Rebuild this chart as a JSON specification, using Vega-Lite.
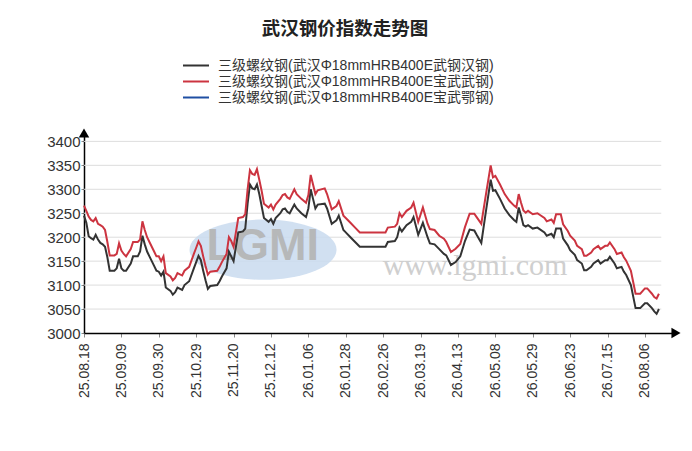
{
  "$schema": "https://vega.github.io/schema/vega-lite/v6.json",
  "width": 592,
  "height": 200,
  "autosize": {"type": "none"},
  "padding": {"left": 84, "top": 133, "right": 16, "bottom": 118},
  "title": {
    "text": "武汉钢价指数走势图",
    "font": "Noto Sans CJK SC",
    "fontSize": 18.5,
    "fontWeight": "bold",
    "color": "#222222",
    "anchor": "middle",
    "frame": "group",
    "dx": -35,
    "offset": 20
  },
  "config": {
    "view": {"stroke": null},
    "axis": {
      "domainColor": "#000000",
      "domainWidth": 1.5,
      "tickColor": "#888888",
      "labelColor": "#333333",
      "labelFont": "Liberation Sans",
      "grid": false,
      "labelOverlap": false,
      "labelBound": false
    },
    "axisX": {"labelFlush": false},
    "axisY": {"format": "d"},
    "legend": {
      "orient": "none",
      "legendX": 104.5,
      "legendY": -75,
      "padding": 0,
      "title": null,
      "symbolType": "M-2,0H2",
      "symbolSize": 169,
      "symbolStrokeWidth": 2,
      "labelFont": "Liberation Sans, Noto Sans CJK SC",
      "labelFontSize": 14,
      "labelColor": "#333333",
      "labelOffset": 14.5,
      "labelLimit": 400,
      "rowPadding": 1
    }
  },
  "layer": [
    {
      "data": {"values": [{"g": 3050}, {"g": 3100}, {"g": 3150}, {"g": 3200}, {"g": 3250}, {"g": 3300}, {"g": 3350}, {"g": 3400}]},
      "mark": {"type": "rule", "color": "#dddddd", "strokeWidth": 1},
      "encoding": {
        "y": {"field": "g", "type": "quantitative", "title": null, "scale": {"domain": [3000, 3417.5], "nice": false, "zero": false},
          "axis": {
            "values": [3000, 3050, 3100, 3150, 3200, 3250, 3300, 3350, 3400],
            "tickCount": 20,
            "format": "d",
            "labelFontSize": 15,
            "labelPadding": 1,
            "tickSize": 3
          }},
        "x": {"datum": 0, "type": "quantitative", "title": null, "scale": {"domain": [0, 253.3], "nice": false, "zero": false},
          "axis": {
            "values": [0, 16, 32, 48, 64, 80, 96, 112, 128, 144, 160, 176, 192, 208, 224, 240],
            "tickCount": 40,
            "labelExpr": "['25.08.18','25.09.09','25.09.30','25.10.29','25.11.20','25.12.12','26.01.06','26.01.28','26.02.26','26.03.19','26.04.13','26.05.08','26.05.29','26.06.23','26.07.15','26.08.06'][round(datum.value / 16)]",
            "labelAngle": 270,
            "labelAlign": "right",
            "labelBaseline": "middle",
            "labelFontSize": 14,
            "labelPadding": 6,
            "tickSize": 4
          }},
        "x2": {"datum": 247}
      }
    },
    {
      "data": {"values": [{}]},
      "mark": {"type": "point", "filled": true, "shape": "M-1,0A1,0.41,0,1,1,1,0A1,0.41,0,1,1,-1,0Z", "size": 21600, "color": "#c9dbee", "opacity": 0.85},
      "encoding": {
        "x": {"datum": 76.6, "type": "quantitative", "title": null},
        "y": {"datum": 3174, "type": "quantitative", "title": null}
      }
    },
    {
      "data": {"values": [{}]},
      "mark": {"type": "text", "text": "LGMI", "font": "Liberation Sans", "fontSize": 45, "fontWeight": "bold", "color": "#b4b4b4", "opacity": 0.9, "baseline": "middle", "align": "center"},
      "encoding": {
        "x": {"datum": 76.5, "type": "quantitative", "title": null},
        "y": {"datum": 3182, "type": "quantitative", "title": null}
      }
    },
    {
      "data": {"values": [{}]},
      "mark": {"type": "text", "text": "www.lgmi.com", "font": "Liberation Serif", "fontSize": 30, "color": "#cfcfcf", "baseline": "middle", "align": "center"},
      "encoding": {
        "x": {"datum": 167.3, "type": "quantitative", "title": null},
        "y": {"datum": 3140, "type": "quantitative", "title": null}
      }
    },
    {
      "data": {
        "values": [
          {"i": 0, "a": 3245, "b": 3266}, {"i": 1, "a": 3230, "b": 3255}, {"i": 2, "a": 3202, "b": 3243},
          {"i": 3, "a": 3198, "b": 3236}, {"i": 4, "a": 3195, "b": 3233}, {"i": 5, "a": 3205, "b": 3240},
          {"i": 6, "a": 3195, "b": 3228}, {"i": 7, "a": 3188, "b": 3225}, {"i": 8, "a": 3185, "b": 3222},
          {"i": 9, "a": 3180, "b": 3215}, {"i": 10, "a": 3158, "b": 3190}, {"i": 11, "a": 3130, "b": 3162},
          {"i": 13, "a": 3130, "b": 3162}, {"i": 14, "a": 3135, "b": 3165}, {"i": 15, "a": 3155, "b": 3187},
          {"i": 16, "a": 3135, "b": 3172}, {"i": 17, "a": 3130, "b": 3165}, {"i": 18, "a": 3130, "b": 3160},
          {"i": 20, "a": 3145, "b": 3175}, {"i": 21, "a": 3160, "b": 3190}, {"i": 23, "a": 3160, "b": 3190},
          {"i": 24, "a": 3170, "b": 3195}, {"i": 25, "a": 3203, "b": 3233}, {"i": 26, "a": 3185, "b": 3215},
          {"i": 27, "a": 3170, "b": 3200}, {"i": 28, "a": 3160, "b": 3190}, {"i": 30, "a": 3140, "b": 3170},
          {"i": 31, "a": 3130, "b": 3160}, {"i": 32, "a": 3128, "b": 3160}, {"i": 33, "a": 3120, "b": 3150},
          {"i": 34, "a": 3128, "b": 3160}, {"i": 35, "a": 3095, "b": 3125}, {"i": 37, "a": 3088, "b": 3118},
          {"i": 38, "a": 3080, "b": 3110}, {"i": 39, "a": 3085, "b": 3115}, {"i": 40, "a": 3095, "b": 3125},
          {"i": 42, "a": 3090, "b": 3120}, {"i": 43, "a": 3100, "b": 3130}, {"i": 45, "a": 3108, "b": 3138},
          {"i": 47, "a": 3135, "b": 3165}, {"i": 48, "a": 3148, "b": 3178}, {"i": 49, "a": 3161, "b": 3191},
          {"i": 50, "a": 3152, "b": 3182}, {"i": 51, "a": 3130, "b": 3160}, {"i": 52, "a": 3110, "b": 3140},
          {"i": 53, "a": 3092, "b": 3122}, {"i": 54, "a": 3098, "b": 3128}, {"i": 57, "a": 3100, "b": 3130},
          {"i": 58, "a": 3108, "b": 3138}, {"i": 59, "a": 3118, "b": 3148}, {"i": 61, "a": 3135, "b": 3165},
          {"i": 62, "a": 3170, "b": 3200}, {"i": 63, "a": 3160, "b": 3192}, {"i": 64, "a": 3150, "b": 3180},
          {"i": 66, "a": 3210, "b": 3240}, {"i": 68, "a": 3212, "b": 3242}, {"i": 69, "a": 3218, "b": 3248},
          {"i": 70, "a": 3270, "b": 3300}, {"i": 71, "a": 3310, "b": 3340}, {"i": 72, "a": 3302, "b": 3332},
          {"i": 73, "a": 3300, "b": 3330}, {"i": 74, "a": 3310, "b": 3342}, {"i": 75, "a": 3290, "b": 3320},
          {"i": 76, "a": 3265, "b": 3297}, {"i": 77, "a": 3240, "b": 3270}, {"i": 79, "a": 3232, "b": 3262},
          {"i": 80, "a": 3238, "b": 3268}, {"i": 81, "a": 3228, "b": 3258}, {"i": 82, "a": 3240, "b": 3268},
          {"i": 84, "a": 3250, "b": 3280}, {"i": 85, "a": 3258, "b": 3288}, {"i": 86, "a": 3260, "b": 3290},
          {"i": 87, "a": 3253, "b": 3283}, {"i": 88, "a": 3250, "b": 3280}, {"i": 90, "a": 3268, "b": 3300},
          {"i": 91, "a": 3260, "b": 3290}, {"i": 93, "a": 3250, "b": 3280}, {"i": 95, "a": 3242, "b": 3272},
          {"i": 96, "a": 3260, "b": 3288}, {"i": 97, "a": 3300, "b": 3330}, {"i": 98, "a": 3280, "b": 3310},
          {"i": 99, "a": 3260, "b": 3290}, {"i": 100, "a": 3268, "b": 3298}, {"i": 103, "a": 3270, "b": 3302},
          {"i": 104, "a": 3260, "b": 3290}, {"i": 106, "a": 3228, "b": 3258}, {"i": 108, "a": 3235, "b": 3265},
          {"i": 109, "a": 3245, "b": 3275}, {"i": 111, "a": 3215, "b": 3245}, {"i": 112, "a": 3210, "b": 3240},
          {"i": 114, "a": 3200, "b": 3230}, {"i": 116, "a": 3190, "b": 3220}, {"i": 118, "a": 3180, "b": 3210},
          {"i": 129, "a": 3180, "b": 3210}, {"i": 130, "a": 3190, "b": 3220}, {"i": 133, "a": 3192, "b": 3222},
          {"i": 134, "a": 3200, "b": 3228}, {"i": 135, "a": 3220, "b": 3250}, {"i": 136, "a": 3212, "b": 3242},
          {"i": 138, "a": 3225, "b": 3255}, {"i": 140, "a": 3232, "b": 3262}, {"i": 141, "a": 3242, "b": 3272},
          {"i": 143, "a": 3205, "b": 3232}, {"i": 145, "a": 3230, "b": 3262}, {"i": 147, "a": 3200, "b": 3228},
          {"i": 148, "a": 3187, "b": 3217}, {"i": 150, "a": 3185, "b": 3215}, {"i": 152, "a": 3175, "b": 3203},
          {"i": 154, "a": 3165, "b": 3197}, {"i": 155, "a": 3162, "b": 3190}, {"i": 157, "a": 3142, "b": 3169},
          {"i": 159, "a": 3148, "b": 3176}, {"i": 161, "a": 3160, "b": 3186}, {"i": 163, "a": 3192, "b": 3221},
          {"i": 165, "a": 3216, "b": 3249}, {"i": 167, "a": 3214, "b": 3249}, {"i": 168, "a": 3205, "b": 3242},
          {"i": 170, "a": 3188, "b": 3228}, {"i": 172, "a": 3255, "b": 3290}, {"i": 174, "a": 3320, "b": 3350},
          {"i": 175, "a": 3297, "b": 3325}, {"i": 176, "a": 3298, "b": 3328}, {"i": 178, "a": 3280, "b": 3310},
          {"i": 180, "a": 3260, "b": 3290}, {"i": 182, "a": 3246, "b": 3276}, {"i": 184, "a": 3236, "b": 3266},
          {"i": 185, "a": 3232, "b": 3262}, {"i": 186, "a": 3262, "b": 3290}, {"i": 187, "a": 3245, "b": 3272},
          {"i": 188, "a": 3225, "b": 3256}, {"i": 189, "a": 3222, "b": 3251}, {"i": 190, "a": 3225, "b": 3255},
          {"i": 192, "a": 3218, "b": 3248}, {"i": 194, "a": 3220, "b": 3250}, {"i": 197, "a": 3210, "b": 3240},
          {"i": 198, "a": 3203, "b": 3233}, {"i": 200, "a": 3207, "b": 3237}, {"i": 201, "a": 3200, "b": 3230},
          {"i": 202, "a": 3218, "b": 3248}, {"i": 204, "a": 3218, "b": 3248}, {"i": 205, "a": 3197, "b": 3227},
          {"i": 207, "a": 3183, "b": 3213}, {"i": 208, "a": 3173, "b": 3203}, {"i": 210, "a": 3163, "b": 3193},
          {"i": 211, "a": 3152, "b": 3182}, {"i": 213, "a": 3145, "b": 3175}, {"i": 214, "a": 3131, "b": 3161},
          {"i": 215, "a": 3131, "b": 3161}, {"i": 217, "a": 3138, "b": 3168}, {"i": 218, "a": 3145, "b": 3175},
          {"i": 220, "a": 3152, "b": 3182}, {"i": 221, "a": 3145, "b": 3175}, {"i": 223, "a": 3152, "b": 3182},
          {"i": 224, "a": 3152, "b": 3182}, {"i": 225, "a": 3159, "b": 3189}, {"i": 227, "a": 3145, "b": 3175},
          {"i": 228, "a": 3135, "b": 3165}, {"i": 230, "a": 3138, "b": 3168}, {"i": 231, "a": 3128, "b": 3158},
          {"i": 232, "a": 3121, "b": 3151}, {"i": 234, "a": 3100, "b": 3130}, {"i": 235, "a": 3076, "b": 3106},
          {"i": 236, "a": 3052, "b": 3082}, {"i": 238, "a": 3052, "b": 3082}, {"i": 240, "a": 3062, "b": 3093},
          {"i": 241, "a": 3062, "b": 3093}, {"i": 243, "a": 3052, "b": 3082}, {"i": 244, "a": 3045, "b": 3075},
          {"i": 245, "a": 3040, "b": 3072}, {"i": 246, "a": 3050, "b": 3082}
        ]
      },
      "transform": [{"fold": ["a", "b"], "as": ["s", "v"]}],
      "mark": {"type": "line", "strokeWidth": 2},
      "encoding": {
        "x": {"field": "i", "type": "quantitative", "title": null},
        "y": {"field": "v", "type": "quantitative", "title": null},
        "color": {
          "field": "s",
          "type": "nominal",
          "scale": {"domain": ["a", "b", "c"], "range": ["#333333", "#cc3440", "#1f4fa3"]},
          "legend": {
            "labelExpr": "datum.label == 'a' ? '三级螺纹钢(武汉Φ18mmHRB400E武钢汉钢)' : datum.label == 'b' ? '三级螺纹钢(武汉Φ18mmHRB400E宝武武钢)' : '三级螺纹钢(武汉Φ18mmHRB400E宝武鄂钢)'"
          }
        }
      }
    },
    {
      "data": {"values": [{}]},
      "mark": {"type": "point", "filled": true, "shape": "triangle-up", "size": 110, "color": "#000000", "opacity": 1},
      "encoding": {
        "x": {"datum": 0, "type": "quantitative", "title": null},
        "y": {"datum": 3417.5, "type": "quantitative", "title": null}
      }
    },
    {
      "data": {"values": [{}]},
      "mark": {"type": "point", "filled": true, "shape": "triangle-right", "size": 110, "color": "#000000", "opacity": 1},
      "encoding": {
        "x": {"datum": 253.3, "type": "quantitative", "title": null},
        "y": {"datum": 3000, "type": "quantitative", "title": null}
      }
    }
  ]
}
